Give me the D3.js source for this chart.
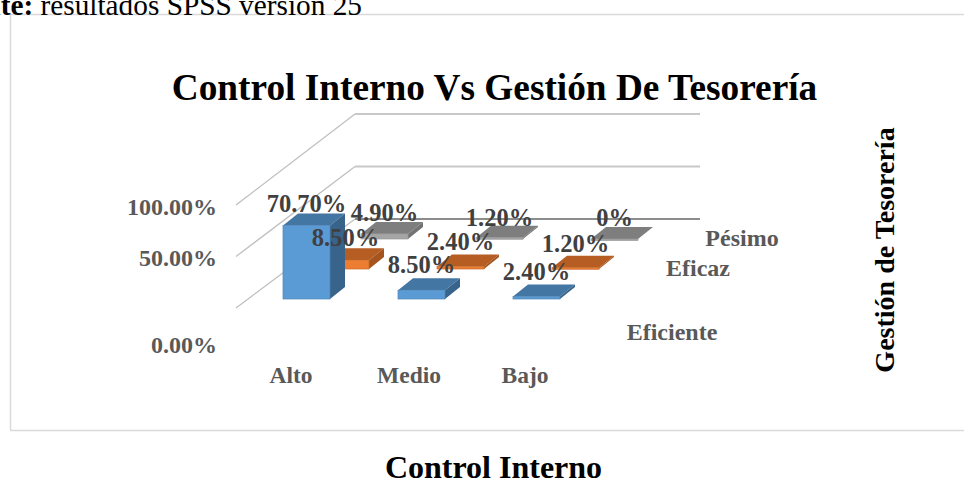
<!DOCTYPE html>
<html><head><meta charset="utf-8">
<script src="https://cdnjs.cloudflare.com/ajax/libs/d3/7.8.5/d3.min.js"></script>
<style>html,body{margin:0;padding:0;background:#fff}svg{display:block}text{font-family:"Liberation Serif",serif}</style>
</head><body><svg id="c" width="964" height="480"></svg>
<script>
const categories=["Alto","Medio","Bajo"];
const seriesNames=["Eficiente","Eficaz","Pésimo"];
const eficiente=[70.7,8.5,2.4];
const eficaz=[8.5,2.4,1.2];
const pesimo=[4.9,1.2,0];
const valueTicks=[0,50,100];
const tickLabels=["0.00%","50.00%","100.00%"];
const eficienteLabels=["70.70%","8.50%","2.40%"];
const eficazLabels=["8.50%","2.40%","1.20%"];
const pesimoLabels=["4.90%","1.20%","0%"];
const chartTitle="Control Interno Vs Gestión De Tesorería";
const xTitle="Control Interno";
const zTitle="Gestión de Tesorería";
const source=["Fuente:"," resultados SPSS versión 25"];

const palette=[
 {front:"#5b9bd5",top:"#4476a3",side:"#38638a",edge:"#4d83b5"},
 {front:"#ed7d31",top:"#b55d22",side:"#a5541d",edge:"#c96a2a"},
 {front:"#a5a5a5",top:"#7e7e7e",side:"#737373",edge:"#999999"}];
const svg=d3.select("#c");
const x=d3.scaleBand().domain(categories).range([283,628]);
const barW=47;
const y=d3.scaleLinear().domain([0,100]).range([299,195]);
const dx=d3.scalePoint().domain(seriesNames).range([0,78]);
const dy=d3.scalePoint().domain(seriesNames).range([0,-60]);
const depth={x:15,y:-12};

svg.append("path").attr("d","M10.5,430V14.5H964M10,430.5H964").attr("fill","none").attr("stroke","#d9d9d9").attr("stroke-width",1.5);
const s=svg.append("text").attr("x",362).attr("y",15).attr("text-anchor","end").attr("font-size",29.3).attr("fill","#000");
s.append("tspan").attr("font-weight","bold").text(source[0]);
s.append("tspan").text(source[1]);

const wallY=d3.scaleLinear().domain([0,100]).range([219,114]);
const sideY=d3.scaleLinear().domain([0,100]).range([308,205]);
const grid=svg.append("g");
valueTicks.forEach(v=>{
 const col=v===0?"#8c8c8c":"#c8c8c8";
 grid.append("path").attr("d",`M236,${sideY(v)}L355,${wallY(v)}`).attr("fill","none").attr("stroke","#bfbfbf").attr("stroke-width",1.3);
 grid.append("path").attr("d",`M355,${wallY(v)}H700`).attr("fill","none").attr("stroke",col).attr("stroke-width",1.8);
});

const seriesVals=[eficiente,eficaz,pesimo];
[2,1,0].forEach(k=>{
 const name=seriesNames[k],c=palette[k],g=svg.append("g");
 categories.forEach((cat,i)=>{
  const x0=x(cat)+dx(name),x1=x0+barW;
  const yb=y(0)+dy(name),yt=y(seriesVals[k][i])+dy(name);
  const d=depth;
  g.append("path").attr("d",`M${x0},${yt}L${x0+d.x},${yt+d.y}H${x1+d.x}L${x1},${yt}Z`).attr("fill",c.top);
  g.append("path").attr("d",`M${x1},${yt}L${x1+d.x},${yt+d.y}V${yb+d.y}L${x1},${yb}Z`).attr("fill",c.side);
  g.append("rect").attr("x",x0).attr("y",yt).attr("width",barW).attr("height",Math.max(yb-yt,1.5)).attr("fill",c.front).attr("stroke",c.edge).attr("stroke-width",.7);
 });
});

const labelStyle=(t,fs,col)=>t.attr("font-size",fs).attr("font-weight","bold").attr("fill",col).attr("text-anchor","middle");
const labelSets=[eficienteLabels,eficazLabels,pesimoLabels];
const labelNudge=[[3.5,0,0.5],[3,0.5,1],[4,5,4]];
[2,1,0].forEach(k=>{
 categories.forEach((cat,i)=>{
  const cx=x(cat)+barW/2+dx(seriesNames[k]);
  const ty=y(seriesVals[k][i])+dy(seriesNames[k])+depth.y-5+labelNudge[k][i];
  labelStyle(svg.append("text"),24.5,"#404040").attr("x",cx).attr("y",ty).text(labelSets[k][i]);
 });
});

const tickY={0:353,50:266,100:215};
valueTicks.forEach((v,i)=>labelStyle(svg.append("text"),24,"#595959").attr("text-anchor","end").attr("x",217).attr("y",tickY[v]).text(tickLabels[i]));
const catX=[291,409,525];
categories.forEach((cat,i)=>labelStyle(svg.append("text"),23.5,"#595959").attr("x",catX[i]).attr("y",383).text(cat));
const serPos=[[672,340],[698,276],[742,246]];
seriesNames.forEach((n,i)=>labelStyle(svg.append("text"),24,"#595959").attr("x",serPos[i][0]).attr("y",serPos[i][1]).text(n));

labelStyle(svg.append("text"),37.3,"#000").attr("x",494.5).attr("y",100).text(chartTitle);
labelStyle(svg.append("text"),32,"#000").attr("x",493.5).attr("y",478).text(xTitle);
labelStyle(svg.append("text"),28,"#000").attr("transform","translate(894,250) rotate(-90)").text(zTitle);
</script></body></html>
